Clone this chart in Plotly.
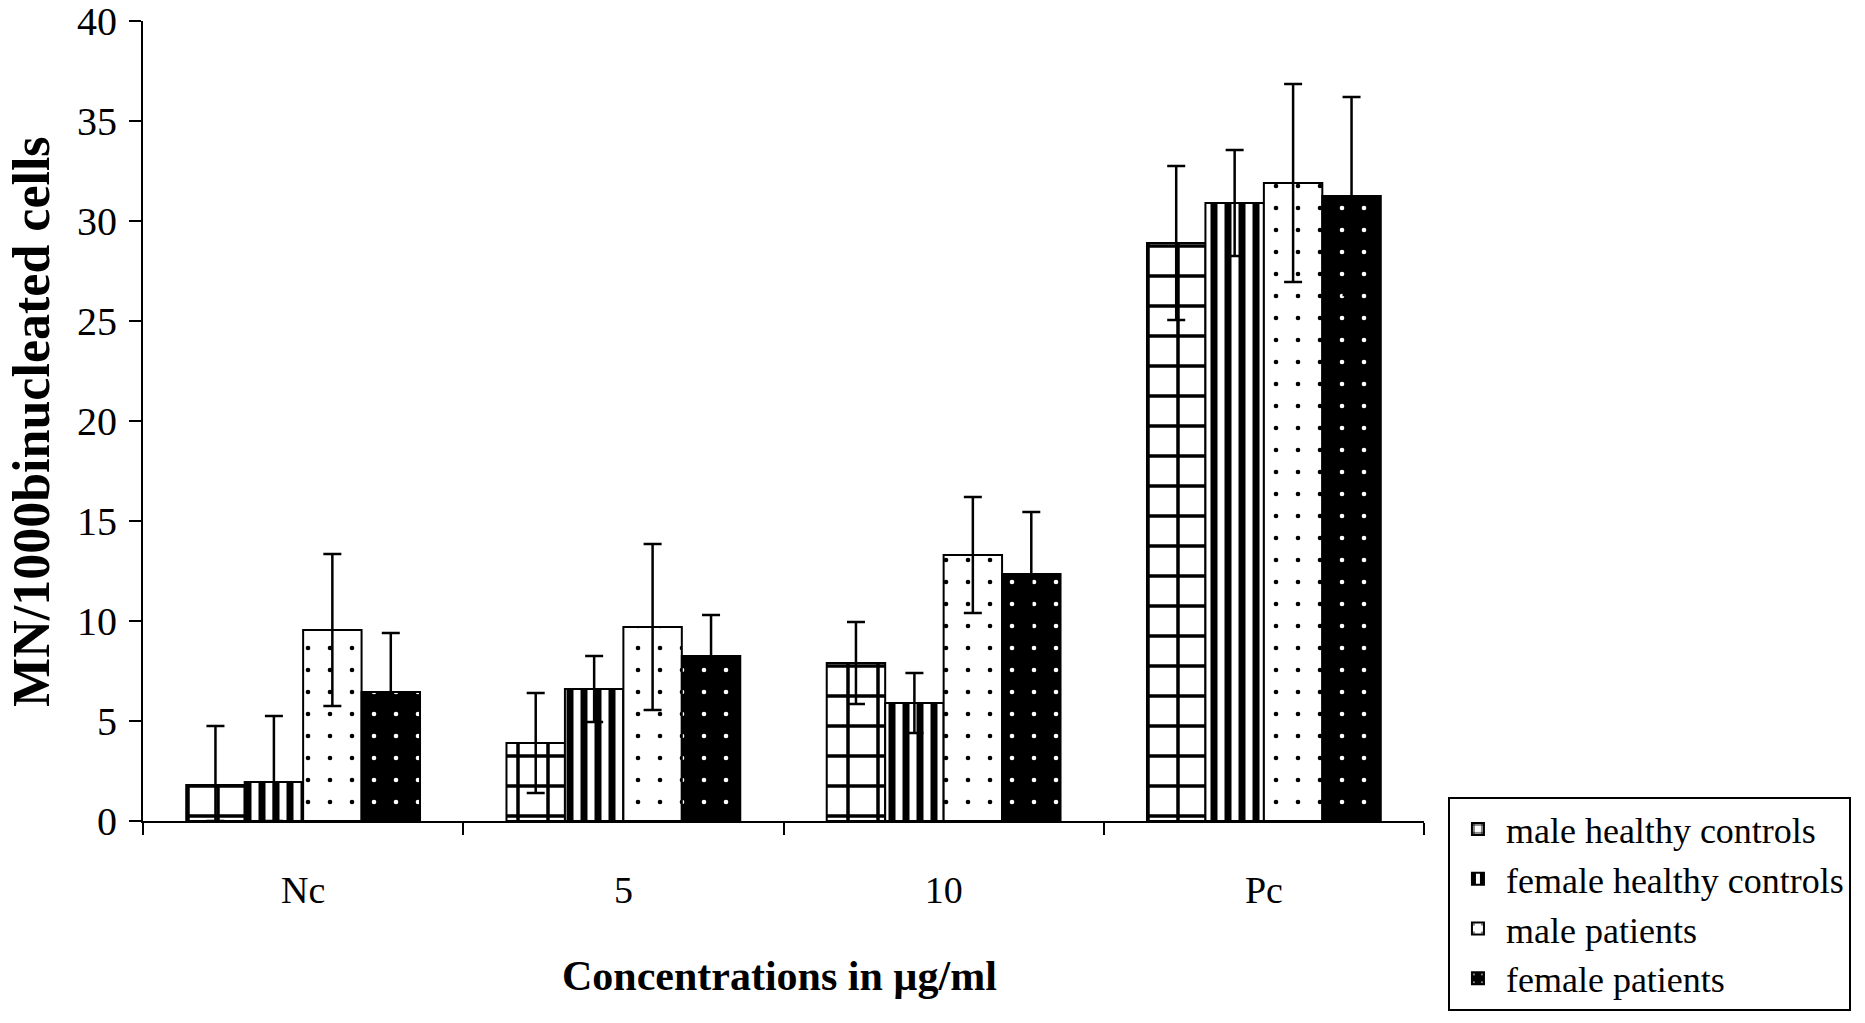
import plotly.graph_objects as go

# Concentration groups on the x axis
categories = ["Nc", "5", "10", "Pc"]

# Mean MN per 1000 binucleated cells and their standard deviations
male_healthy = [1.8, 3.9, 7.9, 28.9]
male_healthy_sd = [2.95, 2.5, 2.05, 3.85]

female_healthy = [1.95, 6.6, 5.9, 30.9]
female_healthy_sd = [3.3, 1.65, 1.5, 2.65]

male_patients = [9.55, 9.7, 13.3, 31.9]
male_patients_sd = [3.8, 4.15, 2.9, 4.95]

female_patients = [6.45, 8.25, 12.35, 31.25]
female_patients_sd = [2.95, 2.05, 3.1, 4.95]

series_names = [
    "male healthy controls",
    "female healthy controls",
    "male patients",
    "female patients",
]

SERIF = "Liberation Serif, Times New Roman, serif"

patterns = [
    dict(shape="+", size=30, solidity=0.22, fgcolor="black", bgcolor="white", fgopacity=1),
    dict(shape="|", size=14, solidity=0.5, fgcolor="black", bgcolor="white", fgopacity=1),
    dict(shape=".", size=22, solidity=0.035, fgcolor="black", bgcolor="white", fgopacity=1),
    dict(shape=".", size=22, solidity=0.035, fgcolor="white", bgcolor="black", fgopacity=1),
]
fill_colors = ["white", "white", "white", "black"]

values = [male_healthy, female_healthy, male_patients, female_patients]
sds = [male_healthy_sd, female_healthy_sd, male_patients_sd, female_patients_sd]

fig = go.Figure()
for i, (name, vals, sd, pat, col) in enumerate(
    zip(series_names, values, sds, patterns, fill_colors)
):
    fig.add_trace(
        go.Bar(
            name=name,
            legendgroup=f"g{i}",
            x=categories,
            y=vals,
            marker=dict(color=col, pattern=pat, line=dict(color="black", width=2)),
            error_y=dict(
                type="data",
                array=sd,
                arrayminus=[min(s, v) for s, v in zip(sd, vals)],
                color="black",
                thickness=2.5,
                width=9,
            ),
        )
    )

fig.update_layout(
    width=1865,
    height=1023,
    margin=dict(l=143, r=441, t=21, b=202, autoexpand=False),
    paper_bgcolor="white",
    plot_bgcolor="white",
    barmode="group",
    bargap=0.27,
    bargroupgap=0,
    font=dict(family=SERIF, color="black"),
    showlegend=True,
    legend=dict(
        x=1.0187,
        y=0.03,
        xanchor="left",
        yanchor="top",
        bordercolor="black",
        borderwidth=2,
        bgcolor="white",
        font=dict(family=SERIF, size=36, color="black"),
        traceorder="normal",
        tracegroupgap=7,
        itemwidth=46,
    ),
)

fig.update_xaxes(
    type="category",
    range=[-0.5, 3.5],
    showline=True,
    linecolor="black",
    linewidth=2,
    ticks="outside",
    tickson="boundaries",
    ticklen=12,
    tickwidth=2,
    tickcolor="black",
    showgrid=False,
    tickfont=dict(family=SERIF, size=38, color="black"),
    ticklabelstandoff=34,
)

fig.update_yaxes(
    range=[0, 40],
    tickvals=[0, 5, 10, 15, 20, 25, 30, 35, 40],
    showline=True,
    linecolor="black",
    linewidth=2,
    ticks="outside",
    ticklen=12,
    tickwidth=2,
    tickcolor="black",
    showgrid=False,
    zeroline=False,
    tickfont=dict(family=SERIF, size=40, color="black"),
    ticklabelstandoff=4,
    ticklabeloverflow="allow",
)

# Axis titles
fig.add_annotation(
    text="<b>Concentrations in µg/ml</b>",
    xref="paper", yref="paper",
    x=0.4965, y=-0.194,
    xanchor="center", yanchor="middle",
    showarrow=False,
    font=dict(family=SERIF, size=42, color="black"),
)
fig.add_annotation(
    text="<b>MN/1000binucleated cells</b>",
    xref="paper", yref="paper",
    x=-0.0875, y=0.5,
    xanchor="center", yanchor="middle",
    textangle=-90,
    showarrow=False,
    font=dict(family=SERIF, size=52, color="black"),
)

fig.write_html("out.html")
